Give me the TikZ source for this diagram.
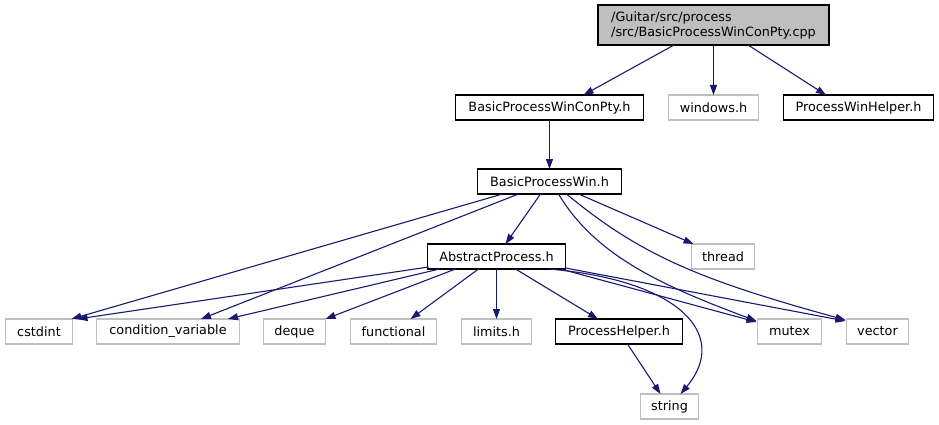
\documentclass[tikz,border=0pt]{standalone}
\usepackage{fontspec}
\setmainfont{DejaVu Sans}
\usetikzlibrary{positioning,arrows.meta,calc}
\definecolor{EdgeBlue}{RGB}{25,25,112}
\definecolor{SysGray}{RGB}{191,191,191}
\definecolor{RootFill}{RGB}{191,191,191}
\tikzset{
  dep/.style={-{Triangle[length=10pt,width=7pt]},line width=1.1pt,draw=EdgeBlue},
  filebox/.style={draw=black,line width=1.1pt,minimum height=25pt,outer sep=0pt,
    inner xsep=4pt,inner ysep=0pt,font=\fontsize{12.8}{15}\selectfont},
  sysbox/.style={filebox,draw=SysGray},
  rootbox/.style={filebox,fill=RootFill,align=left,minimum height=40pt,inner xsep=10pt}
}

\begin{document}
\begin{tikzpicture}[x=1pt,y=-1pt]
  \useasboundingbox (0,0) rectangle (939,425);
  \node[rootbox,minimum width=231pt] (root) at (713.5,25) {/Guitar/src/process\\/src/BasicProcessWinConPty.cpp};
  \node[sysbox,minimum width=90pt,below=50pt of root] (windows) {windows.h};
  \node[filebox,minimum width=188pt,left=25pt of windows] (conpty) {BasicProcessWinConPty.h};
  \node[filebox,minimum width=150pt,right=25pt of windows] (winhelper) {ProcessWinHelper.h};
  \node[filebox,minimum width=144pt,below=49pt of conpty] (bpw) {BasicProcessWin.h};
  \node[filebox,minimum width=138pt,below=50pt of bpw,xshift=-53pt] (abstract) {AbstractProcess.h};
  \node[sysbox,minimum width=63pt,right=126pt of abstract] (thread) {thread};
  \node[sysbox,minimum width=70pt,below=50pt of abstract] (limits) {limits.h};
  \node[sysbox,minimum width=86pt,left=25pt of limits] (functional) {functional};
  \node[sysbox,minimum width=62pt,left=25pt of functional] (deque) {deque};
  \node[sysbox,minimum width=143pt,left=24pt of deque] (condvar) {condition\_variable};
  \node[sysbox,minimum width=67pt,left=24pt of condvar] (cstdint) {cstdint};
  \node[filebox,minimum width=127pt,right=24pt of limits] (prochelper) {ProcessHelper.h};
  \node[sysbox,minimum width=64pt,right=75pt of prochelper] (mutex) {mutex};
  \node[sysbox,minimum width=62pt,right=25pt of mutex] (vector) {vector};
  \node[sysbox,minimum width=58pt,below=50pt of prochelper,xshift=50.5pt] (string) {string};
  % includes of the .cpp
  \draw[dep] ($(root.south)+(-39.5,0)$) -- ($(conpty.north)+(34,0)$);
  \draw[dep] (root.south) -- (windows.north);
  \draw[dep] ($(root.south)+(34.5,0)$) -- ($(winhelper.north)+(-32.5,0)$);
  \draw[dep] (conpty.south) -- (bpw.north);
  % BasicProcessWin.h
  \draw[dep] ($(bpw.south)+(-47,0)$) -- ($(cstdint.north east)+(-1,0)$);
  \draw[dep] ($(bpw.south)+(-31,0)$) -- ($(condvar.north)+(33,0)$);
  \draw[dep] ($(bpw.south)+(-9,0)$) -- ($(abstract.north)+(9,0)$);
  \draw[dep] ($(bpw.south)+(29,0)$) -- ($(thread.north west)+(2,0)$);
  \draw[dep] ($(bpw.south)+(9,0)$) .. controls (595,255) and (660,285) .. ($(mutex.north west)+(-1,2)$);
  \draw[dep] ($(bpw.south)+(17,0)$) .. controls (640,255) and (700,280) .. ($(vector.north west)+(-1,1)$);
  % AbstractProcess.h
  \draw[dep] ($(abstract.south west)+(1,-2)$) -- ($(cstdint.north east)+(5,0)$);
  \draw[dep] ($(abstract.south west)+(12,0)$) -- ($(condvar.north)+(60,0)$);
  \draw[dep] ($(abstract.south west)+(28,0)$) -- (deque.north east);
  \draw[dep] ($(abstract.south)+(-18,0)$) -- ($(functional.north)+(17,0)$);
  \draw[dep] (abstract.south) -- (limits.north);
  \draw[dep] ($(abstract.south)+(19,0)$) -- ($(prochelper.north)+(-21,0)$);
  \draw[dep] ($(abstract.south)+(52,0)$) .. controls (680,280) and (730,335) .. ($(string.north)+(11,0)$);
  \draw[dep] ($(abstract.south east)+(-5,0)$) -- ($(mutex.north west)+(-1,3)$);
  \draw[dep] ($(abstract.south east)+(0,-1)$) -- ($(vector.north west)+(-1,2)$);
  \draw[dep] ($(prochelper.south)+(8.5,0)$) -- ($(string.north)+(-9,0)$);
\end{tikzpicture}
\end{document}
